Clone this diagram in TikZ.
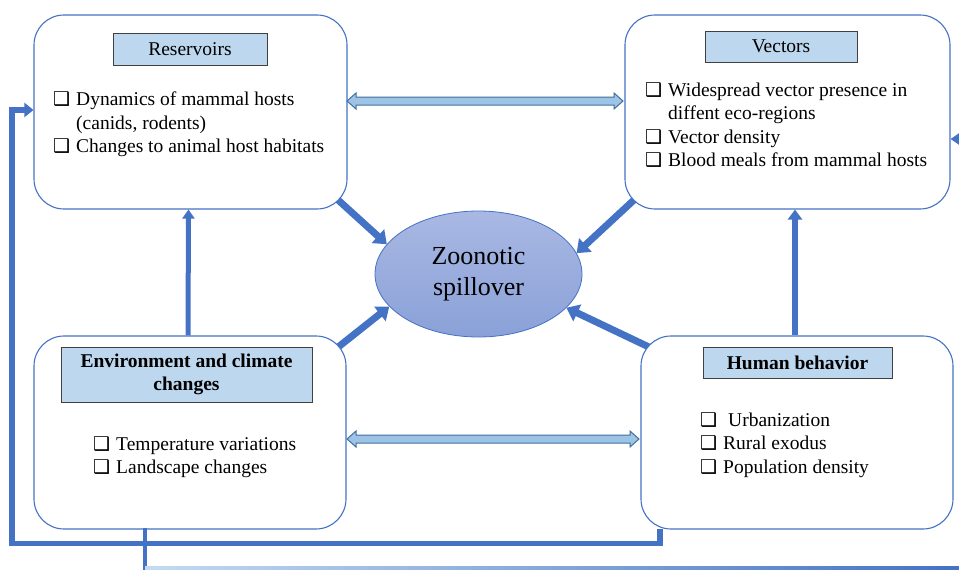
\documentclass[tikz,border=0pt]{standalone}
\usepackage{fontspec}
\setmainfont{Liberation Serif}
\newfontfamily\dejavu{DejaVu Sans}
\usetikzlibrary{arrows.meta,shapes.geometric,calc}
\definecolor{bblue}{HTML}{4472C4}
\definecolor{tblue}{HTML}{BDD7EE}
\definecolor{dblfill}{HTML}{9DC3E6}
\definecolor{dbledge}{HTML}{41719C}
\definecolor{elltop}{HTML}{A9B8E3}
\definecolor{ellbot}{HTML}{8AA1D8}
\newcommand\cbx{\makebox[23pt][l]{\fontsize{19}{19}\dejavu\bfseries ❑}}
\newcommand\cbind{\hspace*{23pt}}
\begin{document}
\begin{tikzpicture}[x=1pt,y=-1pt,
  panel/.style={draw=bblue, line width=1.1pt, rounded corners=30pt, fill=white, inner sep=0pt},
  txt/.style={font=\fontsize{19.5}{23.5}\selectfont, inner sep=0pt, align=left, anchor=west},
  ttl/.style={draw=black!75, line width=0.9pt, fill=tblue, font=\fontsize{19.5}{23.5}\selectfont, inner sep=0pt, align=center},
  bigarrow/.style={draw=bblue, line width=7pt, -{Triangle[length=12pt,width=18pt]}},
  vertarrow/.style={draw=bblue, line width=5pt, -{Triangle[length=9pt,width=12pt]}},
  loopline/.style={draw=bblue, line width=5.5pt, line join=miter},
  dbl/.style={draw=dbledge, fill=dblfill, line width=1pt, line join=miter}]
\useasboundingbox (0,0) rectangle (959,570);
\clip (0,0) rectangle (959,570);
\fill[white] (0,0) rectangle (959,570);

% central ellipse
\node[ellipse, draw=bblue, line width=0.8pt, top color=elltop, bottom color=ellbot,
      minimum width=207pt, minimum height=126pt, inner sep=0pt,
      font=\fontsize{26}{31}\selectfont, align=center] (zoo) at (478.5,274) {Zoonotic\\spillover};

% panel corner coordinates (arrow tails are hidden under the panels)
\coordinate (resSE) at (347,209);
\coordinate (vecSW) at (625,209);
\coordinate (envNE) at (346,336);
\coordinate (humNW) at (641,336);

% diagonal arrows into the ellipse
\draw[bigarrow] ($(resSE)+(-10,-10)$) -- (zoo.162);
\draw[bigarrow] ($(vecSW)+(10,-10)$) -- (zoo.12);
\draw[bigarrow] ($(envNE)+(-9,12)$) -- (zoo.200);
\draw[bigarrow] ($(humNW)+(10,12)$) -- (zoo.339);

% panels
\node[panel, minimum width=313pt, minimum height=194pt] (res) at (190.5,112) {};
\node[panel, minimum width=325pt, minimum height=194pt] (vec) at (787.5,112) {};
\node[panel, minimum width=312pt, minimum height=193pt] (env) at (190,432.5) {};
\node[panel, minimum width=312pt, minimum height=193pt] (hum) at (797,432.5) {};

% loop connector from Human behavior to Reservoirs
\coordinate (humB) at (660,529);
\coordinate (loopA) at (660,543.5);
\coordinate (loopB) at (12,543.5);
\coordinate (loopC) at (12,110);
\draw[loopline, -{Triangle[length=9pt,width=14pt]}] (humB) -- (loopA) -- (loopB) -- (loopC) -- (res.west |- loopC);

% truncated lines at the image border
\coordinate (envB) at (145,528);
\coordinate (offB) at (145,585);
\draw[draw=bblue, line width=4pt] (envB) -- (offB);
\coordinate (offR) at (985,139);
\draw[draw=bblue, line width=5pt, -{Triangle[length=10pt,width=13pt]}] (offR) -- (vec.east |- offR);
\coordinate (bl) at (145,566.5);
\coordinate (br) at (959,569);
\shade[left color=dblfill!60, right color=bblue] (bl) rectangle (br);

% vertical arrows
\draw[vertarrow] ($(env.north)+(-2,0)$) -- ($(res.south)+(-2,0)$);
\draw[draw=bblue, line width=6.5pt, -{Triangle[length=10pt,width=14pt]}] ($(hum.north)+(-2,0)$) -- ($(hum.north |- vec.south)+(-2,0)$);

% double arrows
\coordinate (d1a) at (347,101);
\coordinate (d1b) at (623,101);
\draw[dbl] (d1a) -- ++(9,-8) -- ++(0,4) -- ($(d1b)+(-9,-4)$) -- ++(0,-4) -- (d1b) -- ++(-9,8) -- ++(0,-4) -- ($(d1a)+(9,4)$) -- ++(0,4) -- cycle;
\coordinate (d2a) at (347,439);
\coordinate (d2b) at (639,439);
\draw[dbl] (d2a) -- ++(9,-8) -- ++(0,4) -- ($(d2b)+(-9,-4)$) -- ++(0,-4) -- (d2b) -- ++(-9,8) -- ++(0,-4) -- ($(d2a)+(9,4)$) -- ++(0,4) -- cycle;

% titles
\node[ttl, minimum width=154pt, minimum height=32pt] (resT) at (190,49) {Reservoirs};
\node[ttl, minimum width=152pt, minimum height=31pt] (vecT) at (781,46.5) {Vectors};
\node[ttl, minimum width=251pt, minimum height=55pt, font=\fontsize{19.5}{23.5}\selectfont\bfseries] (envT) at (186.5,374.5) {Environment and climate\\changes};
\node[ttl, minimum width=189pt, minimum height=31pt, font=\fontsize{19.5}{23.5}\selectfont\bfseries] (humT) at (797.5,362.5) {Human behavior};

% bullet texts
\node[txt] (resL) at (53,124.5) {\cbx Dynamics of mammal hosts\\\cbind(canids, rodents)\\\cbx Changes to animal host habitats};
\node[txt] (vecL) at (645,124.8) {\cbx Widespread vector presence in\\\cbind diffent eco-regions\\\cbx Vector density\\\cbx Blood meals from mammal hosts};
\node[txt] (envL) at (93,457) {\cbx Temperature variations\\\cbx Landscape changes};
\node[txt] (humL) at (700,445) {\cbx\hspace*{5pt}Urbanization\\\cbx Rural exodus\\\cbx Population density};
\end{tikzpicture}
\end{document}
